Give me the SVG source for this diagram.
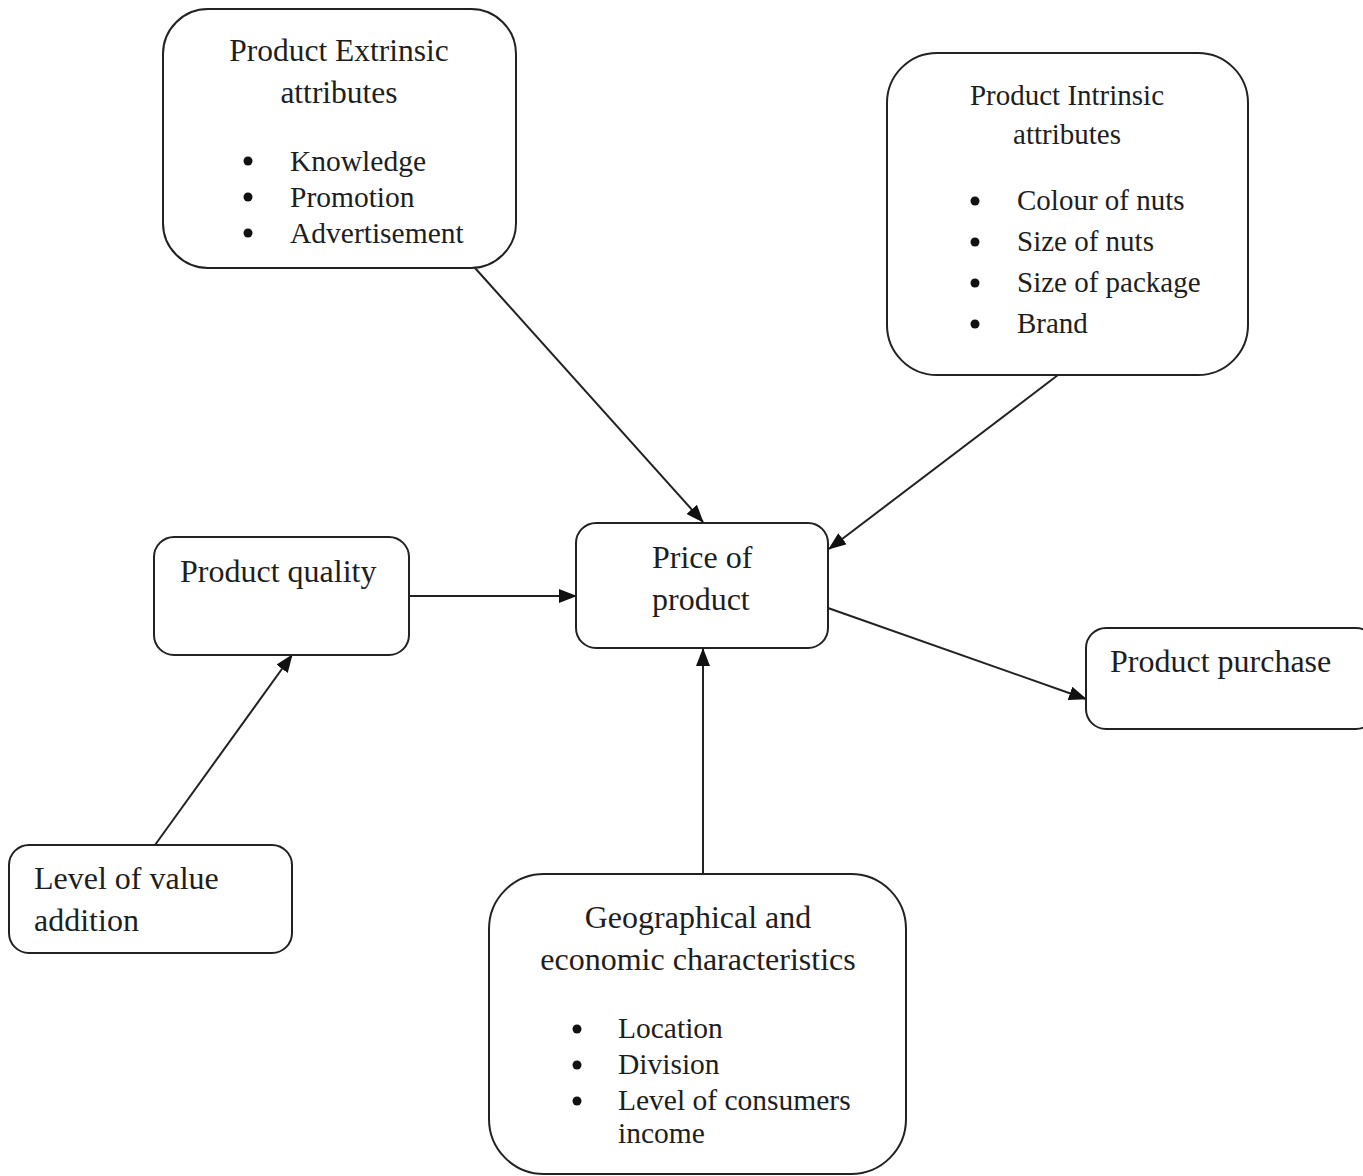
<svg xmlns="http://www.w3.org/2000/svg" width="1363" height="1176" viewBox="0 0 1363 1176">
<defs>
<style>
.box{fill:#fff;stroke:#222;stroke-width:2}
.t{font-family:"Liberation Serif","Times New Roman",serif;fill:#1e1e1e;font-size:32px}
.b{font-family:"Liberation Serif","Times New Roman",serif;fill:#1e1e1e;font-size:29.5px}
.i{font-family:"Liberation Serif","Times New Roman",serif;fill:#1e1e1e;font-size:29px}
.c{text-anchor:middle}
.e{stroke:#222;stroke-width:2;fill:none}
.dot{fill:#111}
</style>
<marker id="ah" markerWidth="18" markerHeight="14" refX="17" refY="7" orient="auto" markerUnits="userSpaceOnUse">
<path d="M0,0 L18,7 L0,14 Z" fill="#111"/>
</marker>
</defs>
<rect width="1363" height="1176" fill="#fff"/>
<g id="connectors">
<line class="e" x1="475" y1="268" x2="703" y2="522" marker-end="url(#ah)"/>
<line class="e" x1="1058" y1="375" x2="829" y2="549" marker-end="url(#ah)"/>
<line class="e" x1="409" y1="596" x2="576" y2="596" marker-end="url(#ah)"/>
<line class="e" x1="155" y1="845" x2="292" y2="655" marker-end="url(#ah)"/>
<line class="e" x1="703" y1="874" x2="703" y2="649" marker-end="url(#ah)"/>
<line class="e" x1="828" y1="608" x2="1086" y2="699" marker-end="url(#ah)"/>
</g>
<g id="extrinsic">
<rect class="box" x="163" y="9" width="353" height="259" rx="45"/>
<text class="t c" x="339" y="61" style="font-size:31.5px">Product Extrinsic</text>
<text class="t c" x="339" y="103" style="font-size:31.5px">attributes</text>
<circle class="dot" cx="248" cy="161" r="4.5"/>
<circle class="dot" cx="248" cy="197" r="4.5"/>
<circle class="dot" cx="248" cy="233" r="4.5"/>
<text class="b" x="290" y="171">Knowledge</text>
<text class="b" x="290" y="207">Promotion</text>
<text class="b" x="290" y="243">Advertisement</text>
</g>
<g id="intrinsic">
<rect class="box" x="887" y="53" width="361" height="322" rx="50"/>
<text class="i c" x="1067" y="105">Product Intrinsic</text>
<text class="i c" x="1067" y="144">attributes</text>
<circle class="dot" cx="975" cy="201" r="4.5"/>
<circle class="dot" cx="975" cy="242" r="4.5"/>
<circle class="dot" cx="975" cy="283" r="4.5"/>
<circle class="dot" cx="975" cy="324" r="4.5"/>
<text class="i" x="1017" y="210">Colour of nuts</text>
<text class="i" x="1017" y="251">Size of nuts</text>
<text class="i" x="1017" y="292">Size of package</text>
<text class="i" x="1017" y="333">Brand</text>
</g>
<g id="quality">
<rect class="box" x="154" y="537" width="255" height="118" rx="20"/>
<text class="t" x="180" y="582">Product quality</text>
</g>
<g id="price">
<rect class="box" x="576" y="523" width="252" height="125" rx="20"/>
<text class="t" x="652" y="568">Price of</text>
<text class="t" x="652" y="610">product</text>
</g>
<g id="purchase">
<rect class="box" x="1086" y="628" width="290" height="101" rx="20"/>
<text class="t" x="1110" y="672">Product purchase</text>
</g>
<g id="valueaddition">
<rect class="box" x="9" y="845" width="283" height="108" rx="20"/>
<text class="t" x="34" y="889">Level of value</text>
<text class="t" x="34" y="931">addition</text>
</g>
<g id="geo">
<rect class="box" x="489" y="874" width="417" height="300" rx="55"/>
<text class="t c" x="698" y="928">Geographical and</text>
<text class="t c" x="698" y="970">economic characteristics</text>
<circle class="dot" cx="577" cy="1029" r="4.5"/>
<circle class="dot" cx="577" cy="1065" r="4.5"/>
<circle class="dot" cx="577" cy="1101" r="4.5"/>
<text class="b" x="618" y="1038">Location</text>
<text class="b" x="618" y="1074">Division</text>
<text class="b" x="618" y="1110">Level of consumers</text>
<text class="b" x="618" y="1143">income</text>
</g>
</svg>
